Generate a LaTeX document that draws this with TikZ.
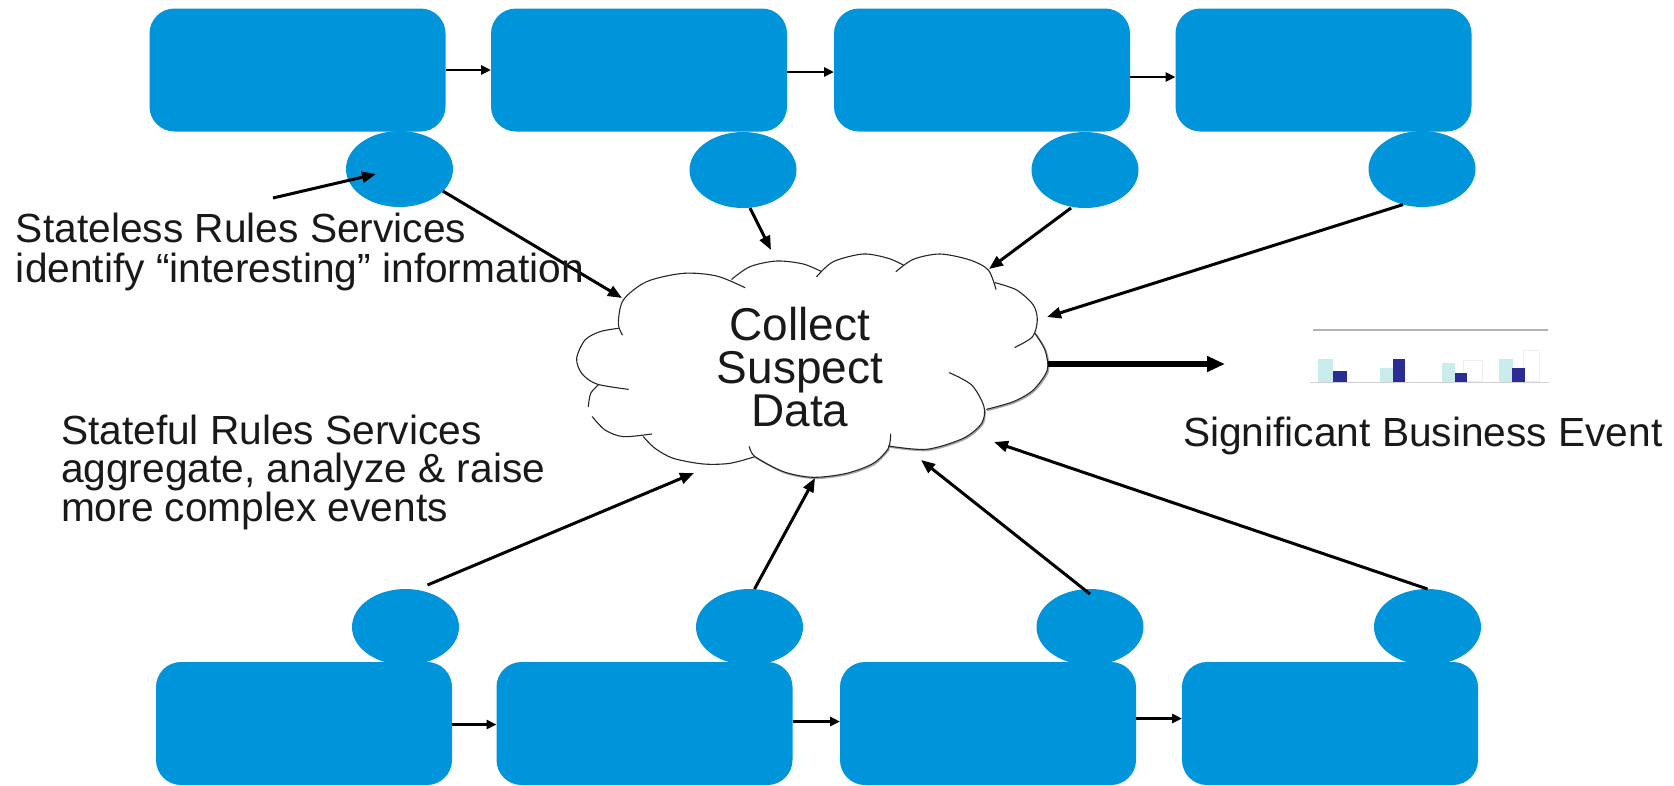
\documentclass[tikz,border=0pt]{standalone}
\usepackage{fontspec}
\setmainfont{Liberation Sans}
\usetikzlibrary{arrows.meta,shapes.geometric}
\definecolor{svc}{HTML}{0094DA}
\definecolor{barlight}{HTML}{C9ECEC}
\definecolor{bardark}{HTML}{2B2C94}
\tikzset{
  svcbox/.style={fill=svc,rounded corners=25pt,minimum width=296pt,minimum height=123pt,inner sep=0pt,outer sep=0pt},
  svcell/.style={ellipse,fill=svc,minimum width=107pt,minimum height=76pt,inner sep=0pt,outer sep=0pt},
  flow/.style={line width=3pt,-{Triangle[length=14pt,width=11pt]},black},
  flowshort/.style={line width=2.6pt,-{Triangle[length=10pt,width=9pt]},black},
  flowthick/.style={line width=5.5pt,-{Triangle[length=18pt,width=15pt]},black},
  cloudline/.style={line width=1.1pt,black!85,line cap=round},
  cloudshade/.style={line width=1.6pt,black!35,line cap=round},
  label/.style={inner sep=0pt,outer sep=0pt,align=left,text=black!90,font=\fontsize{40.7}{39.3}\selectfont},
  barl/.style={fill=barlight,draw=none},
  bard/.style={fill=bardark,draw=none},
  barw/.style={draw=violet!8,line width=1pt,fill=white}
}
\begin{document}
\begin{tikzpicture}[x=1pt,y=-1pt]
\useasboundingbox (0,0) rectangle (1674,785);
% ellipses below the boxes
\node[svcell] (e1) at (399.5,169) {};
\node[svcell] (e2) at (743,170) {};
\node[svcell] (e3) at (1085,170) {};
\node[svcell] (e4) at (1422,169) {};
\node[svcell] (f1) at (405.5,627) {};
\node[svcell] (f2) at (749.5,627) {};
\node[svcell] (f3) at (1090,627) {};
\node[svcell] (f4) at (1427.5,627) {};
% boxes
\node[svcbox] (a1) at (297.5,70) {};
\node[svcbox] (a2) at (639,70) {};
\node[svcbox] (a3) at (982,70) {};
\node[svcbox] (a4) at (1323.5,70) {};
\node[svcbox] (b1) at (304,723.5) {};
\node[svcbox] (b2) at (644.5,723.5) {};
\node[svcbox] (b3) at (988,723.5) {};
\node[svcbox] (b4) at (1330,723.5) {};
% horizontal connectors
\draw[flowshort] ([yshift=0pt]a1.east) -- ([yshift=0pt]a2.west);
\draw[flowshort] ([yshift=-2pt]a2.east) -- ([yshift=-2pt]a3.west);
\draw[flowshort] ([yshift=-7pt]a3.east) -- ([yshift=-7pt]a4.west);
\draw[flowshort] ([yshift=-1pt]b1.east) -- ([yshift=-1pt]b2.west);
\draw[flowshort] ([yshift=2pt]b2.east) -- ([yshift=2pt]b3.west);
\draw[flowshort] ([yshift=5pt]b3.east) -- ([yshift=5pt]b4.west);
% cloud
\begin{scope}[shift={(560,240)},x=0.3333pt,y=-0.3333pt]
\begin{scope}[shift={(3,3)}]
\draw[cloudshade] plot[smooth] coordinates {(1425,280)(1455,330)(1462,390)(1420,450)(1360,485)(1280,508)};
\draw[cloudshade] plot[smooth] coordinates {(1272,510)(1265,550)(1210,595)(1100,628)(985,618)};
\draw[cloudshade] plot[smooth] coordinates {(985,625)(940,670)(860,700)(760,712)(670,695)(585,650)};
\end{scope}
\draw[cloudline] plot[smooth] coordinates {(187,285)(175,250)(190,180)(260,125)(370,100)(470,108)(555,143)};
\draw[cloudline] plot[smooth] coordinates {(515,118)(570,80)(650,63)(730,72)(785,95)};
\draw[cloudline] plot[smooth] coordinates {(770,110)(820,65)(910,42)(985,55)(1030,75)};
\draw[cloudline] plot[smooth] coordinates {(1008,95)(1060,58)(1140,42)(1230,60)(1285,90)(1308,148)};
\draw[cloudline] plot[smooth] coordinates {(1305,128)(1370,150)(1420,195)(1432,240)(1418,290)(1365,322)};
\draw[cloudline] plot[smooth] coordinates {(1425,280)(1455,330)(1462,390)(1420,450)(1360,485)(1280,508)};
\draw[cloudline] plot[smooth] coordinates {(1168,398)(1235,435)(1272,500)(1265,550)(1210,595)(1100,628)(985,618)};
\draw[cloudline] plot[smooth] coordinates {(992,582)(985,625)(940,670)(860,700)(760,712)(670,695)(585,650)(568,620)};
\draw[cloudline] plot[smooth] coordinates {(585,650)(510,670)(430,672)(340,655)(285,625)(250,590)};
\draw[cloudline] plot[smooth] coordinates {(275,582)(190,590)(135,570)(97,530)};
\draw[cloudline] plot[smooth] coordinates {(85,500)(92,460)(115,435)};
\draw[cloudline] plot[smooth] coordinates {(205,448)(110,432)(65,400)(50,355)(75,300)(120,275)(175,265)};
\end{scope}
% free ends of connectors
\coordinate (c1) at (622,298);
\coordinate (c2) at (771,250);
\coordinate (c3) at (989,269);
\coordinate (c4) at (1047,317);
\coordinate (d1) at (694,473);
\coordinate (d2) at (815,478);
\coordinate (d3) at (921,460);
\coordinate (d4) at (994,442);
\coordinate (s1) at (273,198);
\coordinate (s2) at (376,174);
\coordinate (o1) at (1048,364);
\coordinate (o2) at (1225,364);
\draw[flow] (s1) -- (s2);
\draw[flow] (e1.-27) -- (c1);
\draw[flow] ([xshift=7pt]e2.south) -- (c2);
\draw[flow] ([xshift=-14pt]e3.south) -- (c3);
\draw[flow] (e4.-118) -- (c4);
\draw[flow] ([xshift=22pt,yshift=4pt]f1.north) -- (d1);
\draw[flow] ([xshift=5pt]f2.north) -- (d2);
\draw[flow] ([yshift=-5pt]f3.north) -- (d3);
\draw[flow] (f4.north) -- (d4);
\draw[flowthick] (o1) -- (o2);
% texts
\node[label,anchor=base west] (t1) at (16,282) {Stateless Rules Services\\identify “interesting” information};
\node[label,anchor=base west,font=\fontsize{40.7}{37.4}\selectfont] (t2) at (61,521) {Stateful Rules Services\\aggregate, analyze \& raise\\more complex events};
\node[label,anchor=base west] (t3) at (1183,446) {Significant Business Event};
\node[label,anchor=base,align=center,font=\fontsize{46}{43}\selectfont] (t4) at (800,426) {Collect\\Suspect\\Data};
% chart
\begin{scope}[shift={(1280,300)},x=0.3333pt,y=-0.3333pt]
\draw[line width=1.4pt,black!30] (100,90) -- (805,90);
\fill[barw] (550,182) rectangle (608,245);
\fill[barw] (730,150) rectangle (780,245);
\fill[barl] (115,178) rectangle (158,245);
\fill[barl] (300,205) rectangle (338,245);
\fill[barl] (485,190) rectangle (525,245);
\fill[barl] (658,178) rectangle (700,245);
\fill[bard] (160,212) rectangle (200,245);
\fill[bard] (340,178) rectangle (376,245);
\fill[bard] (525,220) rectangle (560,245);
\fill[bard] (697,203) rectangle (735,245);
\draw[line width=1.4pt,black!18] (90,248) -- (808,248);
\end{scope}
\end{tikzpicture}
\end{document}
